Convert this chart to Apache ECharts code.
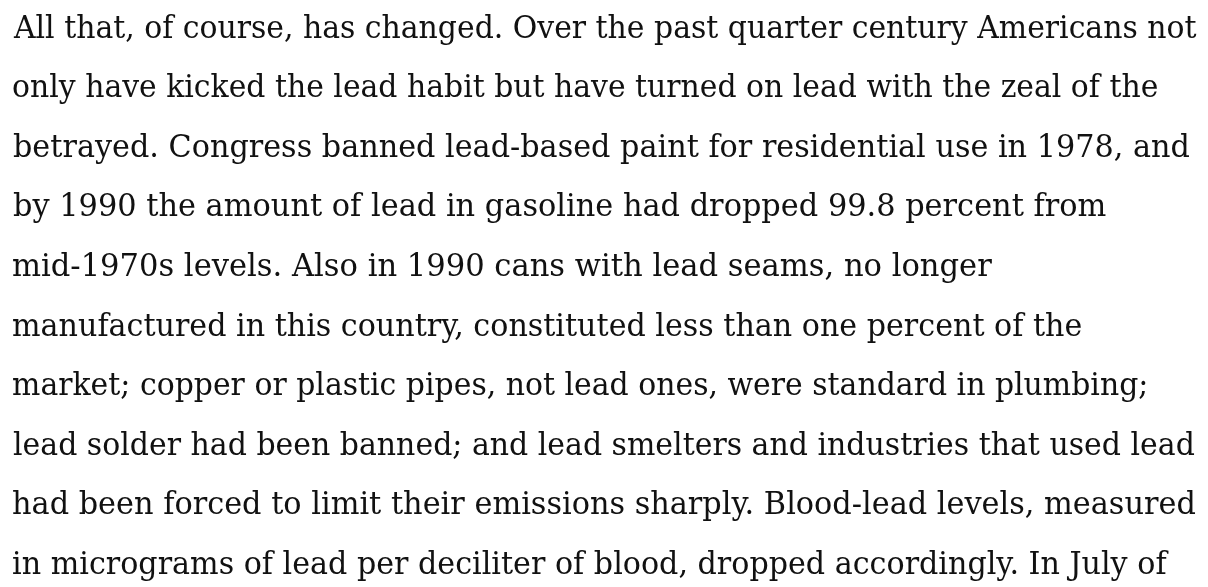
<!DOCTYPE html>
<html>
<head>
<meta charset="utf-8">
<script src="https://cdn.jsdelivr.net/npm/echarts@6/dist/echarts.min.js"></script>
<style>
html, body { margin: 0; padding: 0; background: #ffffff; }
#chart { width: 1208px; height: 587px; }
</style>
</head>
<body>
<div id="chart"></div>
<script>
// Text content (one entry per printed line)
const paragraphLines = [
  "All that, of course, has changed. Over the past quarter century Americans not",
  "only have kicked the lead habit but have turned on lead with the zeal of the",
  "betrayed. Congress banned lead-based paint for residential use in 1978, and",
  "by 1990 the amount of lead in gasoline had dropped 99.8 percent from",
  "mid-1970s levels. Also in 1990 cans with lead seams, no longer",
  "manufactured in this country, constituted less than one percent of the",
  "market; copper or plastic pipes, not lead ones, were standard in plumbing;",
  "lead solder had been banned; and lead smelters and industries that used lead",
  "had been forced to limit their emissions sharply. Blood-lead levels, measured",
  "in micrograms of lead per deciliter of blood, dropped accordingly. In July of"
];

// Layout (kept separate from content)
const layout = {
  left: 13,
  firstBaseline: 40.5,
  lineStep: 59.6,
  rightEdges: [1197, 1157, 1189, 1106, 992, 1081, 1146, 1194, 1195, 1169],
  fontFamily: '"DejaVu Serif"',
  fontSize: 31,
  color: '#111111'
};

const fontStr = layout.fontSize + 'px ' + layout.fontFamily;
const measureCtx = document.createElement('canvas').getContext('2d');
measureCtx.font = fontStr;

const chart = echarts.init(document.getElementById('chart'), null, { renderer: 'canvas' });

function build() {
  measureCtx.font = fontStr;
  const elements = paragraphLines.map(function (t, i) {
    const m = measureCtx.measureText(t);
    const inkW = m.actualBoundingBoxRight + m.actualBoundingBoxLeft;
    const sx = (layout.rightEdges[i] - layout.left) / inkW;
    const baseline = layout.firstBaseline + i * layout.lineStep;
    return {
      type: 'text',
      x: layout.left + m.actualBoundingBoxLeft * sx,
      y: baseline - (m.fontBoundingBoxAscent - m.fontBoundingBoxDescent) / 2,
      scaleX: sx,
      silent: true,
      style: {
        text: t,
        font: fontStr,
        fill: layout.color,
        align: 'left',
        verticalAlign: 'middle'
      }
    };
  });
  chart.setOption({
    backgroundColor: '#ffffff',
    animation: false,
    graphic: { elements: elements }
  }, true);
}
build();
</script>
</body>
</html>
